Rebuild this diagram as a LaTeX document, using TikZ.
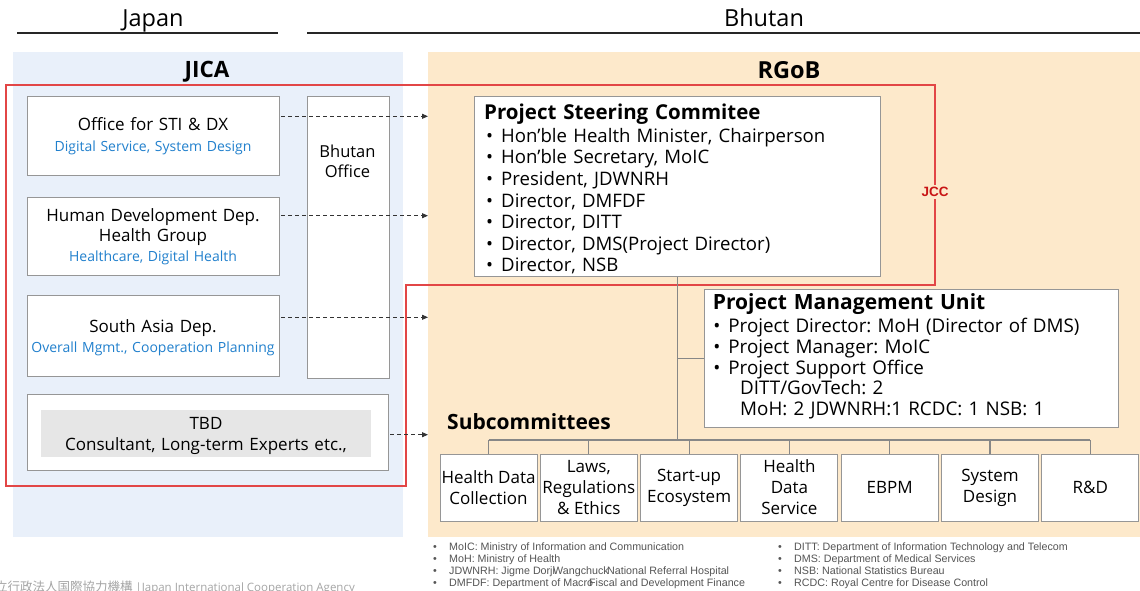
\documentclass[tikz,border=0pt]{standalone}
\usepackage{fontspec}
\setmainfont{Open Sans}
\newfontfamily\notefont{Liberation Sans}
\newfontfamily\jpfont{Noto Sans CJK JP}
\usetikzlibrary{arrows.meta}
\frenchspacing

\definecolor{jicabg}{RGB}{233,240,250}
\definecolor{rgobbg}{RGB}{253,233,203}
\definecolor{boxline}{RGB}{150,150,150}
\definecolor{connline}{RGB}{135,135,135}
\definecolor{jccred}{RGB}{226,70,70}
\definecolor{jcctext}{RGB}{200,20,20}
\definecolor{roleblue}{RGB}{33,128,205}
\definecolor{tbdgray}{RGB}{230,230,230}
\definecolor{notegray}{RGB}{85,85,85}
\definecolor{logogray}{RGB}{165,165,165}
\newcommand\setfs[2]{\fontsize{#1}{#2}\selectfont}
\newcommand\bul[1]{\hspace*{#1}\makebox[15pt][l]{\textbullet}}

\begin{document}
\begin{tikzpicture}[x=1pt,y=-1pt,
  panel/.style={inner sep=0pt, anchor=north west, draw=none},
  box/.style={draw=boxline, fill=white, line width=0.9pt, inner sep=0pt, anchor=north west},
  subbox/.style={draw=boxline, fill=white, line width=0.9pt, inner sep=0pt,
    minimum width=97pt, minimum height=67pt, align=center, font=\setfs{17}{21}},
  ctext/.style={inner sep=0pt, anchor=base, align=center, text width=#1},
  ltext/.style={inner sep=0pt, anchor=base west, align=left, text width=#1},
  dasharrow/.style={draw=black!80, line width=0.9pt, dash pattern=on 4pt off 3pt,
    -{Triangle[length=6pt,width=5pt]}},
  conn/.style={draw=connline, line width=1.1pt},
  note/.style={inner sep=0pt, anchor=base west, text=notegray, font=\notefont\setfs{10.7}{12}},
  role/.style={text=roleblue, font=\setfs{14}{20}},
]
\useasboundingbox (0,0) rectangle (1140,591);
\fill[white] (0,0) rectangle (1140,591);

% country headers
\node[inner sep=0pt, anchor=base, font=\setfs{23.5}{28}] (japan) at (153,27) {Japan};
\node[inner sep=0pt, anchor=base, font=\setfs{23.5}{28}] (bhutan) at (764,27) {Bhutan};
\draw[line width=1.4pt, black!85] (17,33) -- (278,33);
\draw[line width=1.4pt, black!85] (307,33) -- (1140,33);

% organisation panels
\node[panel, fill=jicabg, minimum width=390pt, minimum height=485pt] (jica) at (13,52) {};
\node[panel, fill=rgobbg, minimum width=712pt, minimum height=485pt] (rgob) at (428,52) {};
\node[inner sep=0pt, anchor=base, font=\setfs{22.5}{27}\bfseries] (jicatitle) at (207,78) {JICA};
\node[inner sep=0pt, anchor=base, font=\setfs{23.5}{28}\bfseries] (rgobtitle) at (789,79) {RGoB};

% JCC frame
\draw[jccred, line width=1.3pt] (6,85) -- (935,85) -- (935,285) -- (406,285) -- (406,486) -- (6,486) -- cycle;
\node[fill=rgobbg, inner sep=2pt, text=jcctext, font=\notefont\setfs{13.5}{16}\bfseries] (jcc) at (935,192) {JCC};

% JICA departments
\node[box, minimum width=252pt, minimum height=79pt] (sti) at (27,96) {};
\node[ctext=250pt, font=\setfs{17}{20}] (stitext) at (153,131) {Office for STI \& DX};
\node[ctext=250pt, role] (stirole) at (153,151) {Digital Service, System Design};

\node[box, minimum width=252pt, minimum height=78pt] (hdd) at (27,197) {};
\node[ctext=250pt, font=\setfs{17}{20.2}] (hddtext) at (153,221.7) {Human Development Dep.\\Health Group};
\node[ctext=250pt, role] (hddrole) at (153,261.7) {Healthcare, Digital Health};

\node[box, minimum width=252pt, minimum height=81pt] (sad) at (27,295) {};
\node[ctext=250pt, font=\setfs{17}{20}] (sadtext) at (153,332.3) {South Asia Dep.};
\node[ctext=250pt, role] (sadrole) at (153,352.3) {Overall Mgmt., Cooperation Planning};

\node[box, minimum width=82pt, minimum height=281.5pt] (office) at (306.5,96) {};
\node[ctext=80pt, font=\setfs{16.5}{20.4}] (officetext) at (347.5,157.3) {Bhutan\\Office};

\node[box, minimum width=361pt, minimum height=76pt] (tbd) at (27,394) {};
\node[fill=tbdgray, inner sep=0pt, minimum width=330pt, minimum height=47pt, anchor=north west]
  (tbdinner) at (41,410) {};
\node[ctext=320pt, font=\setfs{17}{21}] (tbdtext) at (206,429) {TBD\\Consultant, Long-term Experts etc.,};

% links to the RGoB side
\coordinate (a1) at ([yshift=-20.3pt]sti.north east);
\coordinate (a2) at ([yshift=-18.7pt]hdd.north east);
\coordinate (a3) at ([yshift=-22.3pt]sad.north east);
\coordinate (a4) at ([yshift=-40.7pt]tbd.north east);
\foreach \a in {a1,a2,a3,a4}
  \draw[dasharrow] ([xshift=1.5pt]\a) -- (\a -| rgob.west);

% Project Steering Committee
\node[box, minimum width=406pt, minimum height=180pt] (psc) at (474,96) {};
\node[ltext=395pt, font=\setfs{20.5}{23}\bfseries] (psctitle) at (484,119.3) {Project Steering Commitee};
\node[ltext=395pt, font=\setfs{18.6}{21.6}] (psctext) at (484,142.3) {%
  \bul{2pt}Hon’ble Health Minister, Chairperson\\
  \bul{2pt}Hon’ble Secretary, MoIC\\
  \bul{2pt}President, JDWNRH\\
  \bul{2pt}Director, DMFDF\\
  \bul{2pt}Director, DITT\\
  \bul{2pt}Director, DMS(Project Director)\\
  \bul{2pt}Director, NSB};

% Project Management Unit
\node[box, minimum width=414pt, minimum height=138pt] (pmu) at (704,289) {};
\node[ltext=400pt, font=\setfs{21}{24}\bfseries] (pmutitle) at (712.7,309) {Project Management Unit};
\node[ltext=400pt, font=\setfs{18.8}{20.7}] (pmutext) at (712.7,332.7) {%
  \bul{0.5pt}Project Director: MoH (Director of DMS)\\
  \bul{0.5pt}Project Manager: MoIC\\
  \bul{0.5pt}Project Support Office\\
  \hspace*{27.3pt}DITT/GovTech: 2\\
  \hspace*{27.3pt}MoH: 2 JDWNRH:1 RCDC: 1 NSB: 1};

% Subcommittees
\node[inner sep=0pt, anchor=base west, font=\setfs{21}{25}\bfseries] (subtitle) at (447,429) {Subcommittees};
\node[subbox] (s1) at (488.5,487.5) {Health Data\\Collection};
\node[subbox] (s2) at (588.8,487.5) {Laws,\\Regulations\\\& Ethics};
\node[subbox] (s3) at (689.1,487.5) {Start-up\\Ecosystem};
\node[subbox] (s4) at (789.4,487.5) {Health\\Data\\Service};
\node[subbox] (s5) at (889.7,487.5) {EBPM};
\node[subbox] (s6) at (990.0,487.5) {System\\Design};
\node[subbox] (s7) at (1090.3,487.5) {R\&D};

% organisation tree
\coordinate (bus) at (0,440);
\draw[conn] (psc.south) -- (psc.south |- bus);
\draw[conn] (pmu.west) -- (pmu.west -| psc.south);
\draw[conn] (s1.north |- bus) -- (s7.north |- bus);
\foreach \s in {s1,s2,s3,s4,s5,s6,s7}
  \draw[conn] (\s.north) -- (\s.north |- bus);

% abbreviations
\foreach \y in {550,562,574,586} {
  \node[note] at (433,\y) {•};
  \node[note] at (778,\y) {•};
}
\node[note] (n1) at (449,550) {MoIC: Ministry of Information and Communication};
\node[note] (n2) at (449,562) {MoH: Ministry of Health};
\node[note] (n3a) at (449,574) {JDWNRH: Jigme Dorji};
\node[note] (n3b) at (553,574) {Wangchuck};
\node[note] (n3c) at (607,574) {National Referral Hospital};
\node[note] (n4a) at (449,586) {DMFDF: Department of Macro};
\node[note] (n4b) at (589,586) {Fiscal and Development Finance};
\node[note] (m1) at (794,550) {DITT: Department of Information Technology and Telecom};
\node[note] (m2) at (794,562) {DMS: Department of Medical Services};
\node[note] (m3) at (794,574) {NSB: National Statistics Bureau};
\node[note] (m4) at (794,586) {RCDC: Royal Centre for Disease Control};

% agency footer
\node[inner sep=0pt, anchor=base east, text=logogray, font=\setfs{11.5}{13}] (footer) at (355,591)
  {{\jpfont\setfs{12.5}{14}独立行政法人国際協力機構} |Japan International Cooperation Agency};
\end{tikzpicture}
\end{document}
